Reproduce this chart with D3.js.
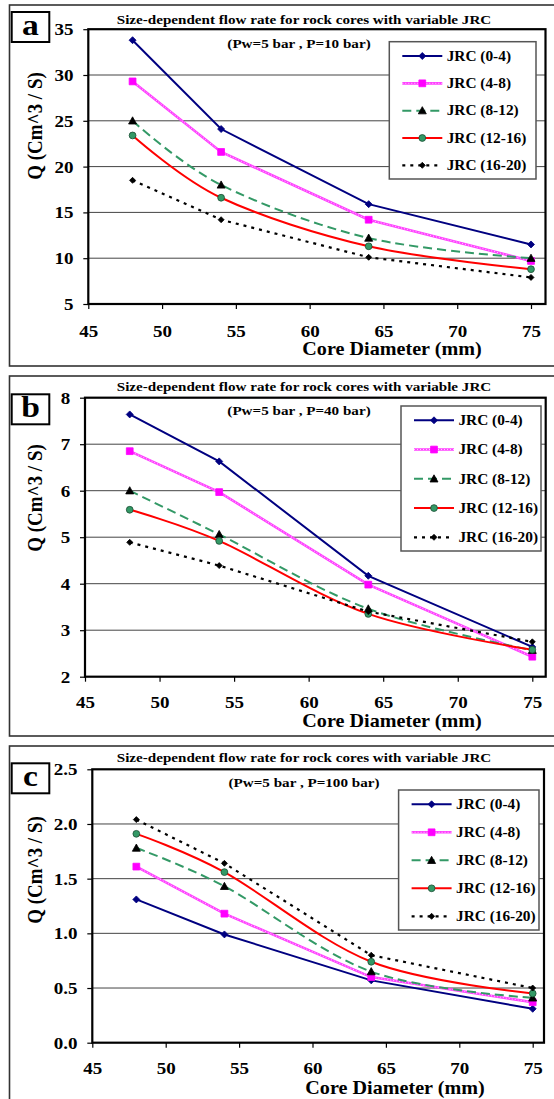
<!DOCTYPE html>
<html>
<head>
<meta charset="utf-8">
<script src="https://cdn.jsdelivr.net/npm/d3@7"></script>
<style>
  html, body { margin: 0; padding: 0; background: #fff; }
  svg { display: block; }
  text { font-family: "Liberation Serif", "Times New Roman", serif; font-weight: bold; fill: #000; }
</style>
</head>
<body>
<script>
// ---------------- DATA ----------------
const diameters = [48, 54, 64, 75];
const seriesNames = ["JRC (0-4)", "JRC (4-8)", "JRC (8-12)", "JRC (12-16)", "JRC (16-20)"];

// Panel a (Pw=5 bar, P=10 bar)
const qA_jrc0_4   = [33.8, 24.1, 15.9, 11.5];
const qA_jrc4_8   = [29.3, 21.6, 14.2, 9.7];
const qA_jrc8_12  = [25.0, 18.0, 12.2, 10.0];
const qA_jrc12_16 = [23.4, 16.6, 11.3, 8.8];
const qA_jrc16_20 = [18.5, 14.2, 10.1, 7.9];

// Panel b (Pw=5 bar, P=40 bar)
const qB_jrc0_4   = [7.64, 6.63, 4.17, 2.64];
const qB_jrc4_8   = [6.85, 5.97, 3.98, 2.43];
const qB_jrc8_12  = [6.00, 5.06, 3.46, 2.57];
const qB_jrc12_16 = [5.59, 4.92, 3.35, 2.58];
const qB_jrc16_20 = [4.89, 4.39, 3.40, 2.75];

// Panel c (Pw=5 bar, P=100 bar)
const qC_jrc0_4   = [1.31, 0.99, 0.57, 0.31];
const qC_jrc4_8   = [1.61, 1.18, 0.60, 0.37];
const qC_jrc8_12  = [1.78, 1.43, 0.65, 0.41];
const qC_jrc12_16 = [1.91, 1.56, 0.74, 0.45];
const qC_jrc16_20 = [2.04, 1.64, 0.80, 0.50];

const xTicks  = [45, 50, 55, 60, 65, 70, 75];
const yTicksA = [5, 10, 15, 20, 25, 30, 35];
const yTicksB = [2, 3, 4, 5, 6, 7, 8];
const yTicksC = [0, 0.5, 1.0, 1.5, 2.0, 2.5];

const chartTitle = "Size-dependent flow rate for rock cores with variable JRC";
const subtitles = ["(Pw=5 bar , P=10 bar)", "(Pw=5 bar , P=40 bar)", "(Pw=5 bar , P=100 bar)"];
const panelLetters = ["a", "b", "c"];
const xTitle = "Core Diameter (mm)";
const yTitle = "Q (Cm^3 / S)";

const panelSeries = [
  [qA_jrc0_4, qA_jrc4_8, qA_jrc8_12, qA_jrc12_16, qA_jrc16_20],
  [qB_jrc0_4, qB_jrc4_8, qB_jrc8_12, qB_jrc12_16, qB_jrc16_20],
  [qC_jrc0_4, qC_jrc4_8, qC_jrc8_12, qC_jrc12_16, qC_jrc16_20]
];
const panelYTicks = [yTicksA, yTicksB, yTicksC];
const panelYFormat = [d3.format("d"), d3.format("d"), d3.format(".1f")];

// ---------------- LAYOUT / STYLE ----------------
const SX = 1.12; // horizontal stretch of the original artwork's text
const layout = [
  { frameTop: 5,   frameBottom: 366,  left: 88.3, x75: 531.0, right: 545.5, top: 29.2,  bottom: 304.0,
    box: [11.7, 12, 37.6, 30], titleY: 19, subY: 43, subX: 299, xTitleX: 392, xTitleY: 349, yTitleY: 126,
    xPad: 16.0, legend: [389.3, 41.7, 146.7, 137.3] },
  { frameTop: 376, frameBottom: 736,  left: 85.0, x75: 532.3, right: 545.7, top: 397.7, bottom: 676.7,
    box: [11.7, 394.3, 37.6, 30], titleY: 386, subY: 410, subX: 299, xTitleX: 392, xTitleY: 721, yTitleY: 498,
    xPad: 14.7, legend: [401, 406, 140, 145] },
  { frameTop: 746, frameBottom: 1101, left: 92.3, x75: 532.7, right: 544.0, top: 769.3, bottom: 1042.7,
    box: [11.7, 763.3, 37.6, 30], titleY: 757, subY: 782, subX: 304, xTitleX: 395, xTitleY: 1088, yTitleY: 870,
    xPad: 14.2, legend: [398.6, 790, 140.4, 140] }
];

const seriesStyle = [
  { color: "#000080", width: 2,   dash: null,  marker: "diamond", mfill: "#000080", mstroke: "#000080", ms: 3.5, smooth: false },
  { color: "#ff40ff", width: 2.6, dash: null,  marker: "square",  mfill: "#ff00ff", mstroke: "#ff00ff", ms: 3.4, smooth: false, texture: true },
  { color: "#339966", width: 2,   dash: "9,5", marker: "triangle",mfill: "#000000", mstroke: "#000000", ms: 4,   smooth: true },
  { color: "#ff0000", width: 2,   dash: null,  marker: "circle",  mfill: "#339966", mstroke: "#1a4d33", ms: 3.4, smooth: true },
  { color: "#000000", width: 2.2, dash: "3,5", marker: "diamond", mfill: "#000000", mstroke: "#000000", ms: 3,   smooth: false }
];

function markerPath(type, s) {
  switch (type) {
    case "diamond":  return `M0,${-s}L${s},0L0,${s}L${-s},0Z`;
    case "square":   return `M${-s},${-s}H${s}V${s}H${-s}Z`;
    case "triangle": return `M0,${-s}L${s},${s*0.8}L${-s},${s*0.8}Z`;
    case "circle":   return d3.symbol(d3.symbolCircle, Math.PI * s * s)();
  }
}

function stretchedText(g, x, y, str, size, anchor) {
  return g.append("text")
    .attr("transform", `translate(${x},${y}) scale(${SX},1)`)
    .attr("text-anchor", anchor)
    .attr("font-size", size)
    .text(str);
}

// ---------------- DRAW ----------------
const svg = d3.select("body").append("svg").attr("width", 554).attr("height", 1099);

layout.forEach((L, pi) => {
  const g = svg.append("g");
  const yTicks = panelYTicks[pi];
  const x = d3.scaleLinear().domain([45, 75]).range([L.left, L.x75]);
  const y = d3.scaleLinear().domain([d3.min(yTicks), d3.max(yTicks)]).range([L.bottom, L.top]);

  // outer frame
  g.append("rect").attr("x", 9.5).attr("y", L.frameTop).attr("width", 560).attr("height", L.frameBottom - L.frameTop)
    .attr("fill", "#fff").attr("stroke", "#333").attr("stroke-width", 1.6);

  // gridlines
  g.append("g").selectAll("line").data(yTicks.slice(1, -1)).join("line")
    .attr("x1", L.left).attr("x2", L.right).attr("y1", d => y(d)).attr("y2", d => y(d))
    .attr("stroke", "#444").attr("stroke-width", 1);

  // axes
  const xa = g.append("g").attr("transform", `translate(0,${L.bottom})`)
    .call(d3.axisBottom(x).tickValues(xTicks).tickSize(5).tickSizeOuter(0).tickPadding(L.xPad).tickFormat(d3.format("d")));
  const ya = g.append("g").attr("transform", `translate(${L.left},0)`)
    .call(d3.axisLeft(y).tickValues(yTicks).tickSize(5).tickSizeOuter(0).tickPadding(8.2).tickFormat(panelYFormat[pi]));
  [xa, ya].forEach(a => {
    a.select(".domain").remove();
    a.attr("font-family", null).attr("font-size", null);
    a.selectAll(".tick line").attr("stroke", "#000").attr("stroke-width", 1.2);
    a.selectAll(".tick text").attr("font-size", 17).attr("transform", `scale(${SX},1)`).attr("fill", "#000");
  });

  // plot border
  g.append("rect").attr("x", L.left).attr("y", L.top).attr("width", L.right - L.left).attr("height", L.bottom - L.top)
    .attr("fill", "none").attr("stroke", "#000").attr("stroke-width", 2.2);

  // series
  panelSeries[pi].forEach((vals, si) => {
    const st = seriesStyle[si];
    const pts = diameters.map((d, k) => [d, vals[k]]);
    const line = d3.line().x(d => x(d[0])).y(d => y(d[1]))
      .curve(st.smooth ? d3.curveCardinal.tension(0) : d3.curveLinear);
    g.append("path").attr("d", line(pts)).attr("fill", "none")
      .attr("stroke", st.color).attr("stroke-width", st.width)
      .attr("stroke-dasharray", st.dash);
    if (st.texture) {
      g.append("path").attr("d", line(pts)).attr("fill", "none")
        .attr("stroke", "#ffd0ff").attr("stroke-width", 1).attr("stroke-dasharray", "1,2");
    }
    g.append("g").selectAll("path").data(pts).join("path")
      .attr("transform", d => `translate(${x(d[0])},${y(d[1])})`)
      .attr("d", markerPath(st.marker, st.ms))
      .attr("fill", st.mfill).attr("stroke", st.mstroke).attr("stroke-width", 0.8);
  });

  // legend
  const [lx, ly, lw, lh] = L.legend;
  const lg = g.append("g");
  lg.append("rect").attr("x", lx).attr("y", ly).attr("width", lw).attr("height", lh)
    .attr("fill", "#fff").attr("stroke", "#555").attr("stroke-width", 1.5);
  const step = (lh - 28) / 4;
  seriesNames.forEach((name, si) => {
    const st = seriesStyle[si];
    const iy = ly + 14.3 + si * step;
    lg.append("line").attr("x1", lx + 13).attr("x2", lx + 53).attr("y1", iy).attr("y2", iy)
      .attr("stroke", st.color).attr("stroke-width", st.width).attr("stroke-dasharray", st.dash);
    if (st.texture) {
      lg.append("line").attr("x1", lx + 13).attr("x2", lx + 53).attr("y1", iy).attr("y2", iy)
        .attr("stroke", "#ffd0ff").attr("stroke-width", 1).attr("stroke-dasharray", "1,2");
    }
    lg.append("path").attr("transform", `translate(${lx + 33},${iy})`).attr("d", markerPath(st.marker, st.ms))
      .attr("fill", st.mfill).attr("stroke", st.mstroke).attr("stroke-width", 0.8);
    stretchedText(lg, lx + 57.4, iy + 4.7, name, 13.7, "start");
  });

  // titles
  stretchedText(g, 304, L.titleY + 4.6, chartTitle, 13.5, "middle");
  stretchedText(g, L.subX, L.subY + 4.6, subtitles[pi], 13.5, "middle");
  stretchedText(g, L.xTitleX, L.xTitleY + 6.2, xTitle, 18, "middle");
  g.append("text")
    .attr("transform", `translate(42,${L.yTitleY}) rotate(-90) scale(1,${SX})`)
    .attr("text-anchor", "middle").attr("font-size", 19).text(yTitle);

  // panel letter box
  const [bx, by, bw, bh] = L.box;
  g.append("rect").attr("x", bx).attr("y", by).attr("width", bw).attr("height", bh)
    .attr("fill", "#fff").attr("stroke", "#000").attr("stroke-width", 2);
  stretchedText(g, bx + bw / 2, by + bh - 7, panelLetters[pi], 30, "middle");
});
</script>
</body>
</html>
